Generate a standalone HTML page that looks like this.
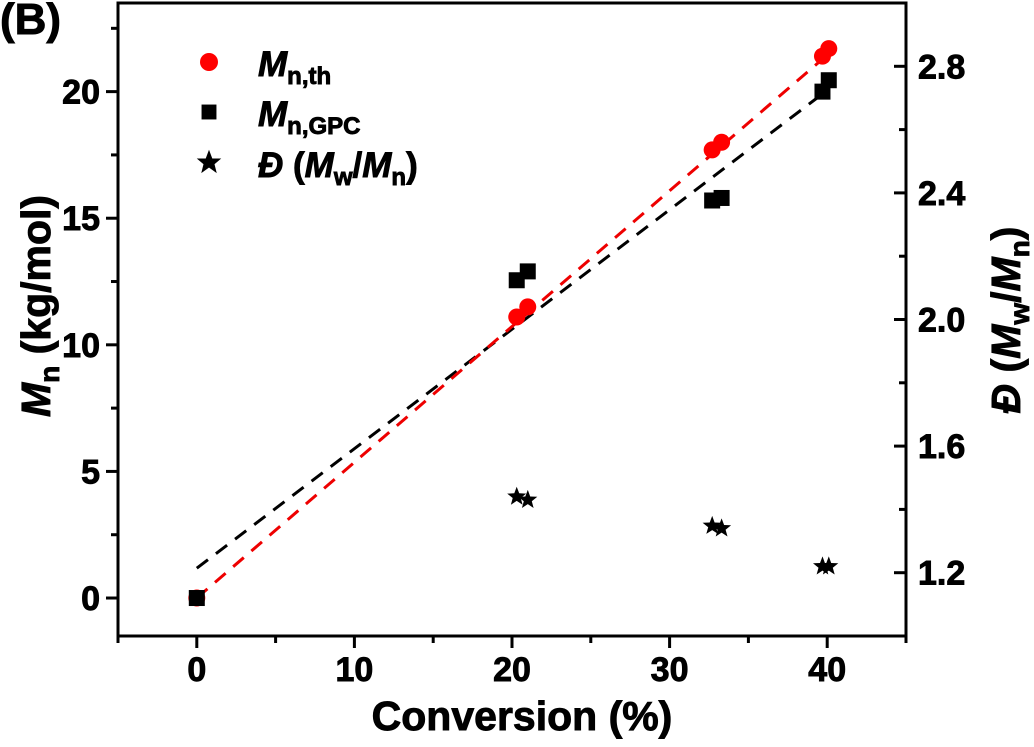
<!DOCTYPE html>
<html><head><meta charset="utf-8"><style>
body{margin:0;background:#fff}
svg{font-family:"Liberation Sans",Arial,sans-serif;font-weight:bold}
.t{stroke:#000;stroke-width:0.9px}
</style></head><body>
<svg width="1034" height="742" viewBox="0 0 1034 742">
<g id="plot"></g>
</svg>
<script>
const conv = [0, 20.3, 21.0, 32.7, 33.3, 39.7, 40.1];
const mnTh = [0, 11.1, 11.5, 17.7, 18.0, 21.4, 21.7];
const mnGpc = [0, 12.55, 12.9, 15.7, 15.8, 20.0, 20.45];
const dConv = [20.3, 21.0, 32.7, 33.3, 39.7, 40.1];
const dispersity = [1.44, 1.43, 1.348, 1.34, 1.22, 1.22];
const fitTh = [0, 0, 40.1, 21.5];
const fitGpc = [0, 1.18, 40.1, 20.1];
const xTicks = [0, 10, 20, 30, 40];
const yTicks = [0, 5, 10, 15, 20];
const y2Ticks = [1.2, 1.6, 2.0, 2.4, 2.8];

const L=118,R=906,T=3,B=636;
const X=v=>L+(v+5)/50*(R-L);
const Y=v=>B-(v+1.5)/25*(B-T);
const Y2=v=>B-(v-1.0)/2.0*(B-T);
const NS='http://www.w3.org/2000/svg';
const g=document.getElementById('plot');
function mk(t,a,p){const e=document.createElementNS(NS,t);for(const k in a)e.setAttribute(k,a[k]);(p||g).appendChild(e);return e;}

const fr=mk('rect',{x:L,y:T,width:R-L,height:B-T,fill:'none',stroke:'#000','stroke-width':3});



for(let v=-5;v<=45;v+=5){const major=v%10===0;
 const t=mk('line',{x1:X(v),x2:X(v),y1:B,y2:B+(major?12:7),stroke:'#000','stroke-width':3});
 
 }
xTicks.forEach(v=>{const t=mk('text',{x:X(v),y:681,'text-anchor':'middle','font-size':34,class:'t'});t.textContent=v;
 
 });
for(let v=-2.5;v<=22.5;v+=2.5){if(Y(v)<T||Y(v)>B)continue;const major=v%5===0;
 const t=mk('line',{x1:L,x2:L-(major?12:7),y1:Y(v),y2:Y(v),stroke:'#000','stroke-width':3});
 
 }
yTicks.forEach(v=>{const t=mk('text',{x:100,y:Y(v)+12,'text-anchor':'end','font-size':34,class:'t'});t.textContent=v;
 
 });
for(let v=1.0;v<=3.0001;v+=0.2){const major=Math.round(v*10)%4===0;
 const t=mk('line',{x1:R,x2:R-(major?12:7),y1:Y2(v),y2:Y2(v),stroke:'#000','stroke-width':3});
 
 }
y2Ticks.forEach(v=>{const t=mk('text',{x:918,y:Y2(v)+12,'font-size':34,class:'t'});t.textContent=v.toFixed(1);
 
 });

const l1=mk('line',{x1:X(fitGpc[0]),y1:Y(fitGpc[1]),x2:X(fitGpc[2]),y2:Y(fitGpc[3]),stroke:'#000','stroke-width':3,'stroke-dasharray':'14,10'});


const l2=mk('line',{x1:X(fitTh[0]),y1:Y(fitTh[1]),x2:X(fitTh[2]),y2:Y(fitTh[3]),stroke:'#e00','stroke-width':3,'stroke-dasharray':'14,10'});



const starPts=(cx,cy,r)=>{let p=[];for(let i=0;i<10;i++){const a=-Math.PI/2+i*Math.PI/5;const rr=i%2?r*0.42:r;p.push((cx+rr*Math.cos(a)).toFixed(1)+','+(cy+rr*Math.sin(a)).toFixed(1));}return p.join(' ');};

conv.forEach((c,i)=>{const e=mk('circle',{cx:X(c),cy:Y(mnTh[i]),r:8.5,fill:'#f00'});
 
 });
conv.forEach((c,i)=>{const e=mk('rect',{x:X(c)-8,y:Y(mnGpc[i])-8,width:16,height:16,fill:'#000'});
 
 });
dConv.forEach((c,i)=>{const e=mk('polygon',{points:starPts(X(c),Y2(dispersity[i]),10),fill:'#000'});
 
 });
</script>
<svg width="1034" height="742" style="position:absolute;left:0;top:0">
<g font-family="Liberation Sans,Arial,sans-serif" font-weight="bold" stroke="#000" stroke-width="0.9">
<text x="0" y="34" font-size="44">(B)</text>
<g>
<circle cx="209" cy="62" r="9" fill="#f00" stroke="none"/>
<text x="258" y="76" font-size="35"><tspan font-style="italic">M</tspan><tspan font-size="24" dy="8">n,th</tspan></text>
<rect x="202" y="105" width="14" height="14" fill="#000"/>
<text x="258" y="126" font-size="35"><tspan font-style="italic">M</tspan><tspan font-size="24" dy="8">n,GPC</tspan></text>
<polygon points="209,151 212,159 220,159 214,164 216,172 209,167 202,172 204,164 198,159 206,159" fill="#000"/>
<text x="258" y="177" font-size="35"><tspan font-style="italic">Đ</tspan> (<tspan font-style="italic">M</tspan><tspan font-size="24" dy="8">w</tspan><tspan dy="-8">/</tspan><tspan font-style="italic">M</tspan><tspan font-size="24" dy="8">n</tspan><tspan dy="-8">)</tspan></text>
</g>
<text x="522" y="730" text-anchor="middle" font-size="41">Conversion (%)</text>
<text transform="translate(50,306) rotate(-90)" text-anchor="middle" font-size="41"><tspan font-style="italic">M</tspan><tspan font-size="28" dy="9">n</tspan><tspan dy="-9"> (kg/mol)</tspan></text>
<text transform="translate(1020,320) rotate(-90)" text-anchor="middle" font-size="41"><tspan font-style="italic">Đ</tspan> (<tspan font-style="italic">M</tspan><tspan font-size="28" dy="9">w</tspan><tspan dy="-9">/</tspan><tspan font-style="italic">M</tspan><tspan font-size="28" dy="9">n</tspan><tspan dy="-9">)</tspan></text>
</g>
</svg>
</body></html>
